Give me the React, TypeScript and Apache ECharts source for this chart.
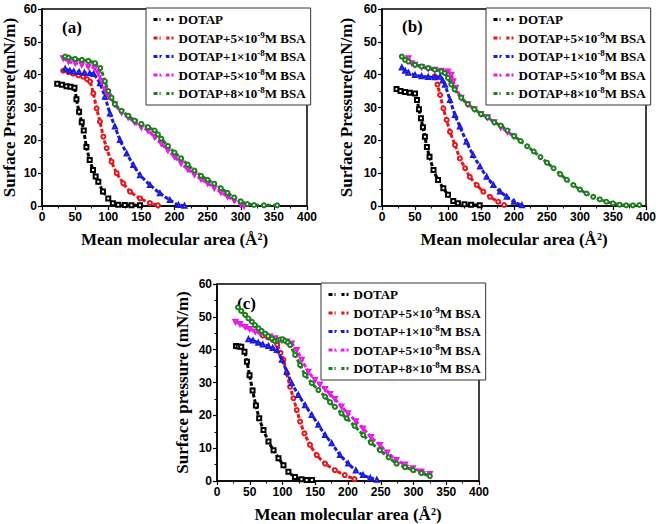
import { useEffect, useRef } from 'react';
import * as echarts from 'echarts';

// series names (legend labels)
const names = [
  'DOTAP',
  'DOTAP+5×10-9M BSA',
  'DOTAP+1×10-8M BSA',
  'DOTAP+5×10-8M BSA',
  'DOTAP+8×10-8M BSA',
];
const colors = ['#000000', '#e8141b', '#1a1adc', '#e619e6', '#1e7d1e'];
const symbols = ['emptyRect', 'emptyCircle', 'emptyTriangle', 'emptyTriangle', 'emptyCircle'];
const rotations = [0, 0, 0, 180, 0];

const xTicks = [0, 50, 100, 150, 200, 250, 300, 350, 400];
const yTicks = [0, 10, 20, 30, 40, 50, 60];

// panel (a)
const aDotap = [[23, 37.2], [30, 36.9], [37, 36.5], [43, 36.3], [49, 36], [52, 32.5], [56, 28.7], [60, 25.5], [63, 23], [67, 18], [72, 14], [77, 11], [81, 9], [85, 7.4], [92, 4.4], [100, 2.3], [107, 0.8], [115, 0.4], [125, 0.3], [135, 0.2], [148, 0.2]];
const aBsa5e9 = [[32, 41.2], [40, 40.8], [47, 40.3], [55, 39.8], [62, 39.4], [68, 38.6], [72.5, 37.9], [77.5, 34.3], [82.5, 29.7], [87.5, 25.7], [92.6, 21.1], [97.6, 17.6], [105, 13.5], [112.7, 10], [122.7, 6.9], [132.8, 4.4], [148, 2.3], [163, 0.9], [175, 0.2]];
const aBsa1e8 = [[35, 41.8], [42, 41.2], [48, 41], [56, 40.8], [64, 40.6], [72, 40.4], [78, 40.2], [87.5, 37.4], [95, 33.3], [102.6, 28.2], [110, 24.2], [117.7, 20.1], [127.8, 16], [137.8, 12.5], [148, 9.4], [163, 6.4], [178, 3.9], [193, 1.8], [206, 0.3], [215, 0.1]];
const aBsa5e8 = [[32, 45], [40, 44], [50, 43.5], [60, 43], [70, 42.5], [80, 42], [85, 40.5], [90, 38], [95, 35.5], [100, 33.5], [110, 31], [120, 28.5], [130, 27], [140, 25.5], [150, 24], [160, 23], [170, 21], [180, 19], [190, 17], [200, 15], [210, 13], [220, 11.2], [230, 9.6], [240, 8.2], [250, 6.9], [260, 5.5], [270, 4.2], [280, 2.9], [290, 1.7], [300, 0.6], [305, 0]];
const aBsa8e8 = [[35, 45.5], [40, 45.2], [50, 44.8], [60, 44.5], [70, 44.2], [80, 43.5], [88, 42], [95, 38], [100, 35], [105, 33], [110, 31], [120, 29], [130, 27.5], [140, 26], [150, 25], [160, 24], [170, 23], [175, 21.8], [180, 20.5], [190, 18.3], [200, 16.3], [210, 14.5], [220, 12.6], [230, 10.8], [240, 9.2], [250, 8], [260, 6.8], [270, 5.4], [280, 4], [290, 2.6], [300, 1.4], [310, 0.6], [320, 0.3], [335, 0.2], [355, 0.2]];

// panel (b)
const bDotap = [[22, 35.6], [28, 35], [35, 34.7], [42, 34.5], [50, 34.3], [53, 32.3], [56, 29.5], [59, 26.7], [62, 24], [65, 21.1], [68, 18], [72, 15], [78, 11], [85, 7.9], [93, 5.4], [100, 3.4], [108, 1.5], [115, 0.8], [125, 0.5], [135, 0.4], [148, 0.2]];
const bBsa5e9 = [[80, 39.5], [84, 37], [88, 33.8], [93, 29.7], [98, 26.2], [103, 22.6], [110.6, 18.6], [118, 14.5], [126, 11.5], [133, 8.9], [143.5, 6.4], [153.5, 4.4], [163.6, 2.8], [176, 1.3], [185, 0.3]];
const bBsa1e8 = [[30, 42.2], [35, 41.2], [40, 40.6], [50, 39.9], [60, 39.5], [70, 39.3], [80, 39.2], [88, 39.4], [92, 38.2], [95.5, 36.9], [103, 32.3], [110.6, 27.7], [118, 24.2], [128, 19.6], [138, 15.5], [148.5, 12], [158.6, 8.9], [168.7, 6.4], [178.8, 4.4], [189, 2.8], [200, 1.3], [212, 0.2]];
const bBsa5e8 = [[40, 45], [45, 43.5], [50, 43], [60, 42.3], [70, 41.8], [80, 41.5], [90, 41.2], [100, 41], [105, 40], [108, 38], [112, 36], [120, 33], [130, 31], [140, 29.5], [150, 28], [160, 27], [170, 25.5], [180, 24], [190, 22.6], [200, 21.2]];
const bBsa8e8 = [[30, 45.5], [35, 44.5], [40, 44], [50, 43], [60, 42.5], [70, 42], [80, 41.5], [90, 41], [95, 40.5], [100, 39], [105, 37], [110, 35.5], [120, 33], [130, 31], [140, 29.5], [150, 28], [160, 27], [170, 25.5], [180, 24.5], [190, 23], [200, 21.3], [210, 19.8], [220, 18.2], [230, 16.6], [240, 14.9], [250, 13.2], [260, 11.5], [270, 9.7], [280, 8], [290, 6.4], [300, 5], [310, 3.8], [320, 2.8], [330, 2], [340, 1.3], [350, 0.8], [360, 0.4], [370, 0.2], [380, 0.2], [390, 0.3]];

// panel (c)
const cDotap = [[29, 41.1], [33, 41], [37, 40.9], [42, 39.4], [45.7, 36.3], [49.7, 32.2], [54.3, 27.6], [59.4, 23], [64.4, 19.1], [71, 15.5], [78.6, 12], [86.3, 9.4], [93.9, 6.9], [101.5, 4.8], [109, 2.8], [119, 1.2], [129, 0.5], [137, 0.3], [145, 0.3]];
const cBsa5e9 = [[70, 44.3], [78, 43.7], [85, 43], [92, 41.5], [97, 39], [101.5, 36.9], [106.6, 32.8], [111.6, 28.7], [116.7, 25.2], [121.8, 21.6], [126.9, 18.1], [133.5, 14.5], [142, 11], [152.3, 7.9], [165, 5.3], [180, 3.3], [195, 1.8], [210, 0.6]];
const cBsa1e8 = [[48, 43.2], [55, 42.8], [63, 42.1], [70, 41.6], [78.6, 41.1], [85, 40.5], [91.4, 39.9], [99, 36.9], [106.6, 33.3], [114, 29.8], [124.3, 26.2], [134.5, 23.1], [144.7, 20.1], [154.8, 17.1], [165, 14], [175, 11.5], [187.8, 7.9], [200.4, 5.3], [212, 3.2], [223, 1.8], [234, 0.9], [244, 0.4]];
const cBsa5e8 = [[28, 48.5], [35, 47.8], [43, 47], [50, 46.3], [58.3, 45.5], [66, 45], [73.6, 44.5], [81, 44], [88.8, 43.5], [99, 42.9], [107, 42.5], [114, 41.9], [121.8, 39.9], [129.4, 36.9], [139.5, 33.3], [149.7, 30.8], [157, 29.4], [165, 28], [172.6, 26.5], [180, 25], [190, 22.7], [200, 20.6], [212, 18.2], [223, 16], [235, 13.4], [248.7, 11], [260, 8.7], [274, 6.4], [287, 5], [299, 3.9], [312, 2.9], [325, 2.1]];
const cBsa8e8 = [[32, 52.9], [37, 51.8], [43, 50.6], [48, 49.5], [53.3, 48.5], [58, 47.5], [63.4, 46.5], [68, 45.7], [73.6, 44.9], [78, 44.1], [83.7, 43.4], [88.8, 42.6], [93, 42.8], [96.4, 43.1], [100, 43.2], [104, 42.7], [108, 42.2], [111.6, 41.4], [119.3, 38.4], [126.9, 35.3], [134.5, 32.3], [144.7, 29.8], [154.8, 27.7], [165, 25.7], [172.6, 24], [180, 22.6], [190, 20.6], [198, 19.1], [210, 16.8], [223.3, 14], [235, 11.7], [248.7, 9.4], [262, 7.2], [274, 5.3], [287, 4.2], [299.4, 3.3], [312, 2.4], [325, 1.5]];

const panels = [
  { label: '(a)', yName: 'Surface Pressure(mN/m)', data: [aDotap, aBsa5e9, aBsa1e8, aBsa5e8, aBsa8e8] },
  { label: '(b)', yName: 'Surface Pressure(mN/m)', data: [bDotap, bBsa5e9, bBsa1e8, bBsa5e8, bBsa8e8] },
  { label: '(c)', yName: 'Surface pressure (mN/m)', data: [cDotap, cBsa5e9, cBsa1e8, cBsa5e8, cBsa8e8] },
];

// layout of each panel's plot box
const boxes = [
  { left: 42, top: 9, width: 265, height: 197, yGap: 24, legendLeft: 146, labelX: 62, labelY: 19 },
  { left: 382, top: 9, width: 264, height: 197, yGap: 27, legendLeft: 486, labelX: 402, labelY: 18 },
  { left: 217, top: 284, width: 262, height: 197, yGap: 26, legendLeft: 321, labelX: 237, labelY: 295 },
];

const SERIF = '"Liberation Serif", "Times New Roman", serif';
const SANS = '"Liberation Sans", Arial, sans-serif';

export default function App() {
  const chartRef = useRef<HTMLDivElement>(null);

  useEffect(() => {
    document.body.style.margin = '0';
    if (!chartRef.current) return;
    const chart = echarts.init(chartRef.current, null, { renderer: 'svg' });

    const tickLabel = { color: '#000', fontFamily: SANS, fontWeight: 'bold' as const, fontSize: 12 };
    const nameStyle = { color: '#000', fontFamily: SERIF, fontWeight: 'bold' as const, fontSize: 17 };
    const axisLine = { lineStyle: { color: '#000', width: 1.5 } };

    const option: echarts.EChartsOption = {
      animation: false,
      backgroundColor: '#fff',
      title: panels.map((p, i) => ({
        text: p.label,
        left: boxes[i].labelX,
        top: boxes[i].labelY,
        padding: 0,
        textStyle: { fontFamily: SERIF, fontWeight: 'bold', fontSize: 17, color: '#000' },
      })),
      grid: boxes.map(b => ({
        left: b.left,
        top: b.top,
        width: b.width,
        height: b.height,
        show: true,
        borderColor: '#000',
        borderWidth: 1.5,
        backgroundColor: 'transparent',
      })),
      xAxis: boxes.map((_, i) => ({
        type: 'value',
        gridIndex: i,
        min: xTicks[0],
        max: xTicks[xTicks.length - 1],
        interval: 50,
        name: 'Mean molecular area (Å{sup|2})',
        nameLocation: 'middle',
        nameGap: 25,
        nameTextStyle: {
          ...nameStyle,
          rich: { sup: { fontFamily: SERIF, fontWeight: 'bold', fontSize: 10, verticalAlign: 'top', lineHeight: 10 } },
        },
        axisLine,
        axisTick: { show: true, length: 4, lineStyle: { color: '#000', width: 1.2 } },
        minorTick: { show: true, splitNumber: 2, length: 2.5, lineStyle: { color: '#000', width: 1 } },
        splitLine: { show: false },
        axisLabel: { ...tickLabel, margin: 5 },
      })),
      yAxis: boxes.map((b, i) => ({
        type: 'value',
        gridIndex: i,
        min: yTicks[0],
        max: yTicks[yTicks.length - 1],
        interval: 10,
        name: panels[i].yName,
        nameLocation: 'middle',
        nameGap: b.yGap,
        nameTextStyle: nameStyle,
        axisLine,
        axisTick: { show: true, length: 4, lineStyle: { color: '#000', width: 1.2 } },
        minorTick: { show: true, splitNumber: 2, length: 2.5, lineStyle: { color: '#000', width: 1 } },
        splitLine: { show: false },
        axisLabel: { ...tickLabel, margin: 5 },
      })),
      legend: boxes.map(b => ({
        data: names,
        orient: 'vertical',
        left: b.legendLeft,
        top: b.top - 1,
        padding: [5, 5, 5, 6],
        itemGap: 4,
        itemWidth: 20,
        itemHeight: 5,
        borderColor: '#333',
        borderWidth: 1,
        backgroundColor: '#fff',
        selectedMode: false,
        lineStyle: { width: 3 },
        itemStyle: { color: '#fff', borderColor: 'inherit', borderWidth: 1 },
        formatter: (name: string) => {
          const m = name.match(/^(.*×10)(-\d+)(M BSA)$/);
          if (m) return `{b|${m[1]}}{s|${m[2]}}{b|${m[3]}}`;
          return `{b|${name}}`;
        },
        textStyle: {
          rich: {
            b: { fontFamily: SERIF, fontWeight: 'bold', fontSize: 13, color: '#000', lineHeight: 16 },
            s: { fontFamily: SERIF, fontWeight: 'bold', fontSize: 9, color: '#000', verticalAlign: 'top', lineHeight: 10 },
          },
        },
      })),
      series: panels.flatMap((p, i) =>
        p.data.map((d, k) => ({
          type: 'line' as const,
          name: names[k],
          xAxisIndex: i,
          yAxisIndex: i,
          data: d,
          symbol: symbols[k],
          symbolRotate: rotations[k],
          symbolSize: 4,
          showAllSymbol: true,
          smooth: 0.2,
          lineStyle: { color: colors[k], width: 3, type: [4, 2] },
          itemStyle: { color: colors[k], borderColor: colors[k], borderWidth: 0.8 },
          z: 2 + k,
        }))
      ),
    };

    chart.setOption(option);
    return () => {
      chart.dispose();
    };
  }, []);

  return <div ref={chartRef} style={{ width: 660, height: 524 }} />;
}
